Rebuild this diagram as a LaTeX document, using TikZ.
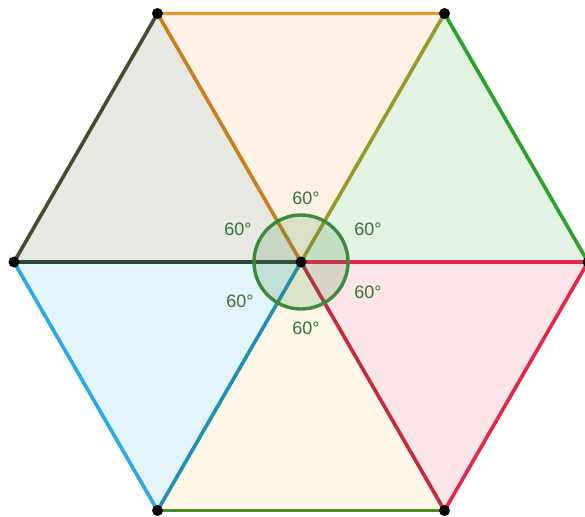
\documentclass[tikz,border=0pt]{standalone}
\usepackage{fontspec}
\setmainfont{Liberation Sans}
\definecolor{hexorange}{HTML}{F0922A}
\definecolor{hexbrown}{HTML}{C8801E}
\definecolor{hexgreen}{HTML}{2CA02C}
\definecolor{hexred}{HTML}{E4264A}
\definecolor{hexcrimson}{HTML}{C42A3C}
\definecolor{hexolive}{HTML}{4E8A2E}
\definecolor{hexblue}{HTML}{2AA7E6}
\definecolor{hexteal}{HTML}{1E90B8}
\definecolor{hexdark}{HTML}{4A4A30}
\definecolor{hexmid}{HTML}{2D4A38}
\definecolor{hexgrey}{HTML}{E8E8E3}
\definecolor{anglegreen}{HTML}{3C8A3C}
\tikzset{
  hex edge/.style={line width=3.6pt, line cap=round},
  angle mark/.style={draw=anglegreen, line width=3.4pt, fill=anglegreen, fill opacity=0.18},
  angle label/.style={text=anglegreen!85!black, font=\fontsize{18}{20}\selectfont},
  vertex dot/.style={fill=black, circle, inner sep=0pt, minimum size=11pt},
}

\begin{document}
\begin{tikzpicture}[x=1pt, y=-1pt]
\useasboundingbox (0,0) rectangle (585,516);

% centre and corners of the hexagon
\coordinate (C) at (301,262);
\coordinate (V1) at (157.5,13.5);
\coordinate (V2) at (444.5,13.5);
\coordinate (V3) at (588,262);
\coordinate (V4) at (444.5,510.5);
\coordinate (V5) at (157.5,510.5);
\coordinate (V6) at (14,262);

% the six triangles
\fill[hexgrey]          (C) -- (V6) -- (V1) -- cycle;
\fill[hexorange!12]     (C) -- (V1) -- (V2) -- cycle;
\fill[hexgreen!13]      (C) -- (V2) -- (V3) -- cycle;
\fill[hexred!12]        (C) -- (V3) -- (V4) -- cycle;
\fill[yellow!45!orange!8] (C) -- (V4) -- (V5) -- cycle;
\fill[hexblue!13]       (C) -- (V5) -- (V6) -- cycle;

% outer edges
\draw[hex edge, hexorange] (V1) -- (V2);
\draw[hex edge, hexgreen]  (V2) -- (V3);
\draw[hex edge, hexred]    (V3) -- (V4);
\draw[hex edge, hexolive]  (V4) -- (V5);
\draw[hex edge, hexblue]   (V5) -- (V6);
\draw[hex edge, hexdark]   (V6) -- (V1);

% spokes
\draw[hex edge, hexbrown]   (C) -- (V1);
\draw[hex edge, hexgreen!45!hexorange] (C) -- (V2);
\draw[hex edge, hexred]     (C) -- (V3);
\draw[hex edge, hexcrimson] (C) -- (V4);
\draw[hex edge, hexteal]    (C) -- (V5);
\draw[hex edge, hexmid]     (C) -- (V6);

% angles at the centre
\draw[angle mark] (C) circle (47);
\node[angle label] (a1) at (306,198) {60°};
\node[angle label] (a2) at (238,229) {60°};
\node[angle label] (a3) at (368,229) {60°};
\node[angle label] (a4) at (240,301) {60°};
\node[angle label] (a5) at (368,292) {60°};
\node[angle label] (a6) at (306,328) {60°};

% points
\foreach \p in {C,V1,V2,V3,V4,V5,V6}
  \node[vertex dot] (dot\p) at (\p) {};
\end{tikzpicture}
\end{document}
